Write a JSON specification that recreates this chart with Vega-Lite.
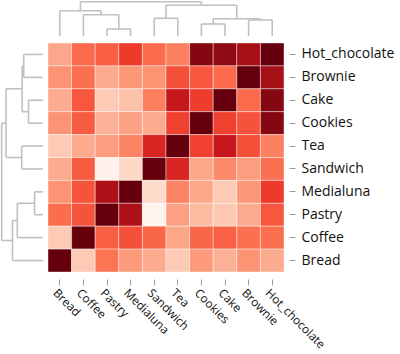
{
  "$schema": "https://vega.github.io/schema/vega-lite/v6.json",
  "padding": {"left": 0, "top": 0, "right": 0, "bottom": 0},
  "background": "white",
  "config": {
    "view": {"stroke": null},
    "axis": {"labelFont": "Open Sans", "labelFontSize": 12, "labelColor": "#111111", "tickColor": "#999999", "domain": false, "grid": false, "title": null}
  },
  "datasets": {
    "tree": [
      {"a": 2.5, "a2": 2.5, "h": 0, "h2": 7},
      {"a": 3.5, "a2": 3.5, "h": 0, "h2": 7},
      {"a": 2.5, "a2": 3.5, "h": 7, "h2": 7},
      {"a": 1.5, "a2": 1.5, "h": 0, "h2": 21.3},
      {"a": 3, "a2": 3, "h": 7, "h2": 21.3},
      {"a": 1.5, "a2": 3, "h": 21.3, "h2": 21.3},
      {"a": 0.5, "a2": 0.5, "h": 0, "h2": 25.3},
      {"a": 2.25, "a2": 2.25, "h": 21.3, "h2": 25.3},
      {"a": 0.5, "a2": 2.25, "h": 25.3, "h2": 25.3},
      {"a": 4.5, "a2": 4.5, "h": 0, "h2": 17.7},
      {"a": 5.5, "a2": 5.5, "h": 0, "h2": 17.7},
      {"a": 4.5, "a2": 5.5, "h": 17.7, "h2": 17.7},
      {"a": 6.5, "a2": 6.5, "h": 0, "h2": 12},
      {"a": 7.5, "a2": 7.5, "h": 0, "h2": 12},
      {"a": 6.5, "a2": 7.5, "h": 12, "h2": 12},
      {"a": 8.5, "a2": 8.5, "h": 0, "h2": 16},
      {"a": 9.5, "a2": 9.5, "h": 0, "h2": 16},
      {"a": 8.5, "a2": 9.5, "h": 16, "h2": 16},
      {"a": 7, "a2": 7, "h": 12, "h2": 17.3},
      {"a": 9, "a2": 9, "h": 16, "h2": 17.3},
      {"a": 7, "a2": 9, "h": 17.3, "h2": 17.3},
      {"a": 5, "a2": 5, "h": 17.7, "h2": 30.7},
      {"a": 8, "a2": 8, "h": 17.3, "h2": 30.7},
      {"a": 5, "a2": 8, "h": 30.7, "h2": 30.7},
      {"a": 1.375, "a2": 1.375, "h": 25.3, "h2": 34.3},
      {"a": 6.5, "a2": 6.5, "h": 30.7, "h2": 34.3},
      {"a": 1.375, "a2": 6.5, "h": 34.3, "h2": 34.3}
    ],
    "cells": [
      {"row": "Hot_chocolate", "col": "Bread", "v": 0.31},
      {"row": "Hot_chocolate", "col": "Coffee", "v": 0.5},
      {"row": "Hot_chocolate", "col": "Pastry", "v": 0.53},
      {"row": "Hot_chocolate", "col": "Medialuna", "v": 0.63},
      {"row": "Hot_chocolate", "col": "Sandwich", "v": 0.49},
      {"row": "Hot_chocolate", "col": "Tea", "v": 0.43},
      {"row": "Hot_chocolate", "col": "Cookies", "v": 0.94},
      {"row": "Hot_chocolate", "col": "Cake", "v": 0.92},
      {"row": "Hot_chocolate", "col": "Brownie", "v": 0.87},
      {"row": "Hot_chocolate", "col": "Hot_chocolate", "v": 1.0},
      {"row": "Brownie", "col": "Bread", "v": 0.37},
      {"row": "Brownie", "col": "Coffee", "v": 0.48},
      {"row": "Brownie", "col": "Pastry", "v": 0.3},
      {"row": "Brownie", "col": "Medialuna", "v": 0.36},
      {"row": "Brownie", "col": "Sandwich", "v": 0.37},
      {"row": "Brownie", "col": "Tea", "v": 0.57},
      {"row": "Brownie", "col": "Cookies", "v": 0.55},
      {"row": "Brownie", "col": "Cake", "v": 0.5},
      {"row": "Brownie", "col": "Brownie", "v": 1.0},
      {"row": "Brownie", "col": "Hot_chocolate", "v": 0.875},
      {"row": "Cake", "col": "Bread", "v": 0.3},
      {"row": "Cake", "col": "Coffee", "v": 0.55},
      {"row": "Cake", "col": "Pastry", "v": 0.2},
      {"row": "Cake", "col": "Medialuna", "v": 0.23},
      {"row": "Cake", "col": "Sandwich", "v": 0.43},
      {"row": "Cake", "col": "Tea", "v": 0.77},
      {"row": "Cake", "col": "Cookies", "v": 0.62},
      {"row": "Cake", "col": "Cake", "v": 1.0},
      {"row": "Cake", "col": "Brownie", "v": 0.5},
      {"row": "Cake", "col": "Hot_chocolate", "v": 0.94},
      {"row": "Cookies", "col": "Bread", "v": 0.37},
      {"row": "Cookies", "col": "Coffee", "v": 0.54},
      {"row": "Cookies", "col": "Pastry", "v": 0.28},
      {"row": "Cookies", "col": "Medialuna", "v": 0.33},
      {"row": "Cookies", "col": "Sandwich", "v": 0.3},
      {"row": "Cookies", "col": "Tea", "v": 0.61},
      {"row": "Cookies", "col": "Cookies", "v": 1.0},
      {"row": "Cookies", "col": "Cake", "v": 0.61},
      {"row": "Cookies", "col": "Brownie", "v": 0.56},
      {"row": "Cookies", "col": "Hot_chocolate", "v": 0.94},
      {"row": "Tea", "col": "Bread", "v": 0.2},
      {"row": "Tea", "col": "Coffee", "v": 0.3},
      {"row": "Tea", "col": "Pastry", "v": 0.34},
      {"row": "Tea", "col": "Medialuna", "v": 0.42},
      {"row": "Tea", "col": "Sandwich", "v": 0.7},
      {"row": "Tea", "col": "Tea", "v": 1.0},
      {"row": "Tea", "col": "Cookies", "v": 0.61},
      {"row": "Tea", "col": "Cake", "v": 0.77},
      {"row": "Tea", "col": "Brownie", "v": 0.57},
      {"row": "Tea", "col": "Hot_chocolate", "v": 0.43},
      {"row": "Sandwich", "col": "Bread", "v": 0.3},
      {"row": "Sandwich", "col": "Coffee", "v": 0.54},
      {"row": "Sandwich", "col": "Pastry", "v": 0.02},
      {"row": "Sandwich", "col": "Medialuna", "v": 0.15},
      {"row": "Sandwich", "col": "Sandwich", "v": 1.0},
      {"row": "Sandwich", "col": "Tea", "v": 0.7},
      {"row": "Sandwich", "col": "Cookies", "v": 0.31},
      {"row": "Sandwich", "col": "Cake", "v": 0.4},
      {"row": "Sandwich", "col": "Brownie", "v": 0.34},
      {"row": "Sandwich", "col": "Hot_chocolate", "v": 0.48},
      {"row": "Medialuna", "col": "Bread", "v": 0.37},
      {"row": "Medialuna", "col": "Coffee", "v": 0.56},
      {"row": "Medialuna", "col": "Pastry", "v": 0.85},
      {"row": "Medialuna", "col": "Medialuna", "v": 1.0},
      {"row": "Medialuna", "col": "Sandwich", "v": 0.14},
      {"row": "Medialuna", "col": "Tea", "v": 0.42},
      {"row": "Medialuna", "col": "Cookies", "v": 0.31},
      {"row": "Medialuna", "col": "Cake", "v": 0.2},
      {"row": "Medialuna", "col": "Brownie", "v": 0.36},
      {"row": "Medialuna", "col": "Hot_chocolate", "v": 0.63},
      {"row": "Pastry", "col": "Bread", "v": 0.49},
      {"row": "Pastry", "col": "Coffee", "v": 0.56},
      {"row": "Pastry", "col": "Pastry", "v": 1.0},
      {"row": "Pastry", "col": "Medialuna", "v": 0.85},
      {"row": "Pastry", "col": "Sandwich", "v": 0.01},
      {"row": "Pastry", "col": "Tea", "v": 0.33},
      {"row": "Pastry", "col": "Cookies", "v": 0.25},
      {"row": "Pastry", "col": "Cake", "v": 0.21},
      {"row": "Pastry", "col": "Brownie", "v": 0.3},
      {"row": "Pastry", "col": "Hot_chocolate", "v": 0.55},
      {"row": "Coffee", "col": "Bread", "v": 0.2},
      {"row": "Coffee", "col": "Coffee", "v": 1.0},
      {"row": "Coffee", "col": "Pastry", "v": 0.53},
      {"row": "Coffee", "col": "Medialuna", "v": 0.57},
      {"row": "Coffee", "col": "Sandwich", "v": 0.51},
      {"row": "Coffee", "col": "Tea", "v": 0.31},
      {"row": "Coffee", "col": "Cookies", "v": 0.51},
      {"row": "Coffee", "col": "Cake", "v": 0.52},
      {"row": "Coffee", "col": "Brownie", "v": 0.48},
      {"row": "Coffee", "col": "Hot_chocolate", "v": 0.48},
      {"row": "Bread", "col": "Bread", "v": 1.0},
      {"row": "Bread", "col": "Coffee", "v": 0.2},
      {"row": "Bread", "col": "Pastry", "v": 0.47},
      {"row": "Bread", "col": "Medialuna", "v": 0.35},
      {"row": "Bread", "col": "Sandwich", "v": 0.3},
      {"row": "Bread", "col": "Tea", "v": 0.2},
      {"row": "Bread", "col": "Cookies", "v": 0.35},
      {"row": "Bread", "col": "Cake", "v": 0.28},
      {"row": "Bread", "col": "Brownie", "v": 0.37},
      {"row": "Bread", "col": "Hot_chocolate", "v": 0.3}
    ]
  },
  "columns": 2,
  "align": "each",
  "bounds": "flush",
  "spacing": {"row": 7, "column": 5},
  "concat": [
    {
      "width": 43,
      "height": 36,
      "data": {"values": []},
      "mark": "point",
      "encoding": {}
    },
    {
      "width": 236,
      "height": 36,
      "data": {"name": "tree"},
      "mark": {"type": "rule", "color": "#c0c0c0", "strokeWidth": 1.6},
      "encoding": {
        "x": {"field": "a", "type": "quantitative", "scale": {"domain": [0, 10], "nice": false, "zero": false}, "axis": null},
        "x2": {"field": "a2"},
        "y": {"field": "h", "type": "quantitative", "scale": {"domain": [0, 36], "nice": false}, "axis": null},
        "y2": {"field": "h2"}
      }
    },
    {
      "width": 43,
      "height": 229,
      "data": {"name": "tree"},
      "mark": {"type": "rule", "color": "#c0c0c0", "strokeWidth": 1.6},
      "encoding": {
        "y": {"field": "a", "type": "quantitative", "scale": {"domain": [0, 10], "nice": false, "zero": false}, "axis": null},
        "y2": {"field": "a2"},
        "x": {"field": "h", "type": "quantitative", "scale": {"domain": [0, 35.7], "nice": false, "reverse": true}, "axis": null},
        "x2": {"field": "h2"}
      }
    },
    {
      "width": 236,
      "height": 229,
      "data": {"name": "cells"},
      "mark": {"type": "rect", "stroke": "#ffffff", "strokeWidth": 0.8, "strokeOpacity": 0.5},
      "encoding": {
        "x": {
          "field": "col", "type": "nominal",
          "sort": ["Bread", "Coffee", "Pastry", "Medialuna", "Sandwich", "Tea", "Cookies", "Cake", "Brownie", "Hot_chocolate"],
          "scale": {"paddingInner": 0, "paddingOuter": 0},
          "axis": {"orient": "bottom", "labelAngle": 45, "labelAlign": "left", "labelBaseline": "top", "offset": 7, "tickSize": 6, "labelPadding": 2, "labelOffset": -1, "labelFontSize": 11.8}
        },
        "y": {
          "field": "row", "type": "nominal",
          "sort": ["Hot_chocolate", "Brownie", "Cake", "Cookies", "Tea", "Sandwich", "Medialuna", "Pastry", "Coffee", "Bread"],
          "scale": {"paddingInner": 0, "paddingOuter": 0},
          "axis": {"orient": "right", "offset": 5, "tickSize": 6, "labelPadding": 6, "labelFontSize": 14}
        },
        "color": {
          "field": "v", "type": "quantitative",
          "scale": {
            "domain": [0, 0.125, 0.25, 0.375, 0.5, 0.625, 0.75, 0.875, 1],
            "range": ["#fff5f0", "#fee0d2", "#fcbba1", "#fc9272", "#fb6a4a", "#ef3b2c", "#cb181d", "#a50f15", "#67000d"],
            "interpolate": "rgb"
          },
          "legend": null
        }
      }
    }
  ]
}
